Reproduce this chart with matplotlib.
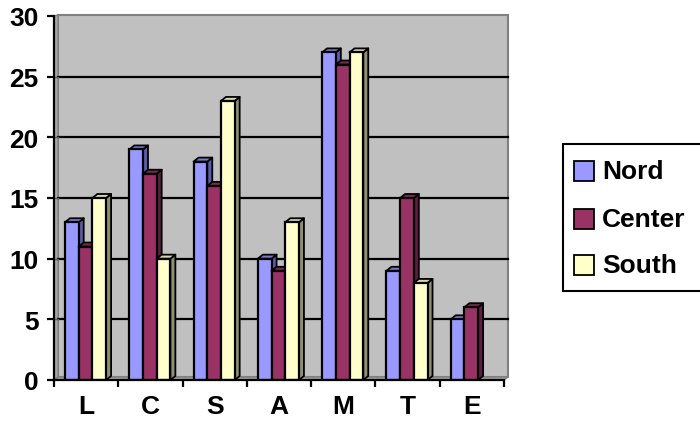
import numpy as np
import matplotlib
matplotlib.use("Agg")
import matplotlib.pyplot as plt
from matplotlib.patches import Polygon, Rectangle

plt.rcParams['font.family'] = ['Liberation Sans', 'DejaVu Sans']
plt.rcParams['font.weight'] = 'bold'

categories = ['L', 'C', 'S', 'A', 'M', 'T', 'E']
nord = [13, 19, 18, 10, 27, 9, 5]
center = [11, 17, 16, 9, 26, 15, 6]
south = [15, 10, 23, 13, 27, 8, None]
series = ['Nord', 'Center', 'South']

# front, top, side colours per series
colors = {
    'Nord': ('#9999FF', '#7A7AD6', '#5C5CA8'),
    'Center': ('#993366', '#7A2952', '#5C1F3D'),
    'South': ('#FFFFCC', '#D6D6AA', '#8F8F72'),
}

W, H = 700, 427
fig = plt.figure(figsize=(W / 100, H / 100), dpi=100)
ax = fig.add_axes([54 / W, (H - 381) / H, 450 / W, 364 / H])
ax.set_xlim(0, 7)
ax.set_ylim(0, 30)

# 3d-ish depth in data units
wdx, wdy = 4 / 64.3, 3 / 12.13     # wall depth
bdx, bdy = 5 / 64.3, 4 / 12.13     # bar depth

# back wall, side wall, floor
ax.add_patch(Polygon([(wdx, wdy), (7 + wdx, wdy), (7 + wdx, 30.08), (wdx, 30.08)],
                     closed=True, fc='#C0C0C0', ec='#808080', lw=1.5, clip_on=False, zorder=0))
ax.add_patch(Polygon([(0, 0), (wdx, wdy), (wdx, 30.08), (0, 30)],
                     closed=True, fc='#A8A8A8', ec='#808080', lw=1, clip_on=False, zorder=0))
ax.add_patch(Polygon([(0, 0), (7, 0), (7 + wdx, wdy), (wdx, wdy)],
                     closed=True, fc='#A0A0A0', ec='#808080', lw=1, clip_on=False, zorder=0))
for v in range(5, 30, 5):
    ax.plot([wdx, 7 + wdx], [v, v], color='black', lw=1.6, zorder=1, clip_on=False)
    ax.plot([0, wdx], [v, v], color='#606060', lw=1, zorder=1, clip_on=False)

bw = 13.7 / 64.3
off = 11 / 64.3
z = 2
for i in range(len(categories)):
    for j, (name, vals) in enumerate(zip(series, [nord, center, south])):
        v = vals[i]
        if v is None:
            continue
        x0 = i + off + j * bw
        x1 = x0 + bw
        fc, tc, sc = colors[name]
        side = Polygon([(x1, 0), (x1 + bdx, bdy), (x1 + bdx, v + bdy), (x1, v)],
                       closed=True, fc=sc, ec='black', lw=1.3, zorder=z, joinstyle='round')
        top = Polygon([(x0, v), (x0 + bdx, v + bdy), (x1 + bdx, v + bdy), (x1, v)],
                      closed=True, fc=tc, ec='black', lw=1.3, zorder=z, joinstyle='round')
        front = Rectangle((x0, 0), bw, v, fc=fc, ec='black', lw=1.6, zorder=z + 0.5)
        ax.add_patch(side)
        ax.add_patch(top)
        ax.add_patch(front)
        z += 1

for s in ['top', 'right']:
    ax.spines[s].set_visible(False)
for s in ['left', 'bottom']:
    ax.spines[s].set_linewidth(1.6)
    ax.spines[s].set_zorder(50)
ax.set_facecolor('none')

ax.set_yticks(range(0, 31, 5))
ax.set_xticks(range(0, 8))
ax.set_xticklabels([])
ax.set_xticks(np.arange(7) + 0.5, minor=True)
ax.set_xticklabels(categories, minor=True)
ax.tick_params(axis='x', which='minor', length=0, pad=10, labelsize=19)
ax.tick_params(axis='x', which='major', length=5, width=1.6, direction='out')
ax.tick_params(axis='y', length=5, width=1.6, direction='out', pad=6, labelsize=19)

# legend
fig.patches.append(Rectangle((563 / W, (H - 292) / H), 160 / W, 147 / H,
                             transform=fig.transFigure, fc='white', ec='black', lw=1.5))
for k, name in enumerate(series):
    ytop = [162, 210, 256][k]
    fig.patches.append(Rectangle((574 / W, (H - ytop - 20) / H), 20 / W, 20 / H,
                                 transform=fig.transFigure, fc=colors[name][0],
                                 ec='black', lw=1.3))
    fig.text(602 / W, (H - ytop - 10) / H, name, fontsize=19, fontweight='bold',
             va='center', ha='left')

fig.savefig('out.png', dpi=100)
